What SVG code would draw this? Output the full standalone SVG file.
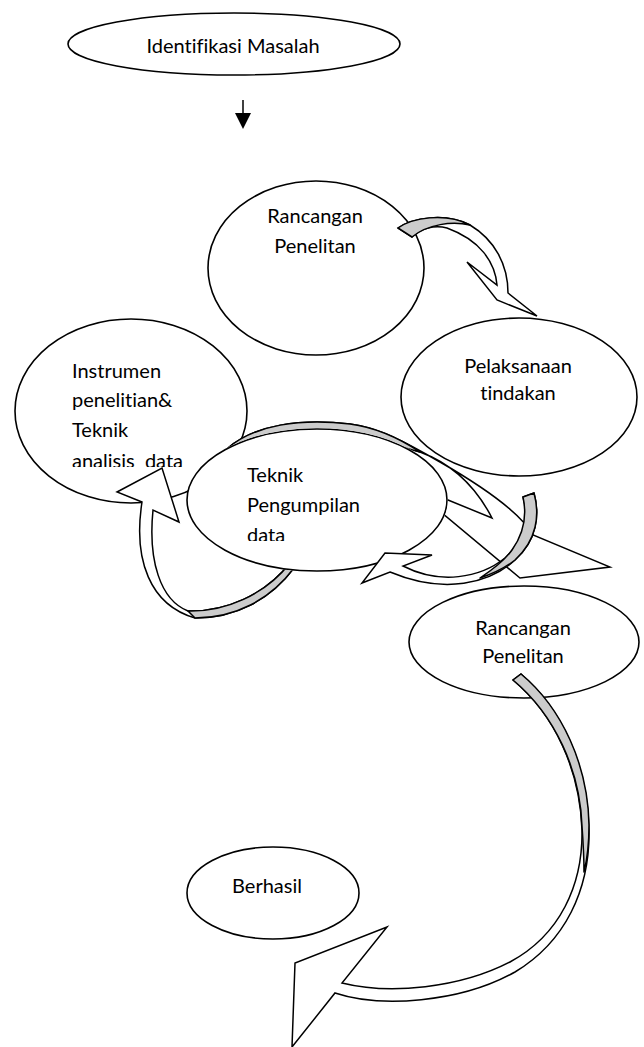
<svg xmlns="http://www.w3.org/2000/svg" width="644" height="1047" viewBox="0 0 644 1047">
<style>
.shape{fill:#fff;stroke:#000;stroke-width:1.6}
.lbl{font-family:Lato,"Open Sans",sans-serif;font-size:20px;fill:#000;font-variant-ligatures:none;font-feature-settings:"liga" 0,"clig" 0,"dlig" 0}
.mid{text-anchor:middle}
.arrow{fill:#fff;stroke:#000;stroke-width:1.5;stroke-linejoin:miter}
.shade{fill:#cccccc;stroke:#000;stroke-width:1.5;stroke-linejoin:round}
</style>
<defs>
<clipPath id="clipInstr"><rect x="0" y="340" width="260" height="127"/></clipPath>
<clipPath id="clipTek"><rect x="200" y="440" width="260" height="101"/></clipPath>
<mask id="hideTek" maskUnits="userSpaceOnUse" x="0" y="0" width="644" height="1047">
<rect x="0" y="0" width="644" height="1047" fill="#fff"/>
<ellipse cx="317" cy="500" rx="131" ry="72" fill="#000"/>
</mask>
</defs>
<rect width="644" height="1047" fill="#fff"/>
<g id="node-identifikasi">
<ellipse class="shape" cx="234" cy="44" rx="166" ry="31"/>
<text class="lbl mid" x="233" y="53">Identifikasi Masalah</text>
</g>
<g id="node-rancangan1">
<ellipse class="shape" cx="316" cy="268" rx="108" ry="87"/>
<text class="lbl mid" x="315" y="223">Rancangan</text>
<text class="lbl mid" x="315" y="253">Penelitan</text>
</g>
<g id="node-pelaksanaan">
<ellipse class="shape" cx="519" cy="397" rx="118" ry="79"/>
<text class="lbl mid" x="518" y="373">Pelaksanaan</text>
<text class="lbl mid" x="518" y="400">tindakan</text>
</g>
<g id="node-instrumen">
<ellipse class="shape" cx="131" cy="411" rx="116" ry="92"/>
<g clip-path="url(#clipInstr)">
<text class="lbl" x="72" y="378">Instrumen</text>
<text class="lbl" x="72" y="407">penelitian&amp;</text>
<text class="lbl" x="72" y="437">Teknik</text>
<text class="lbl" x="72" y="468" xml:space="preserve">analisis  data</text>
</g>
</g>
<g id="node-teknik">
<ellipse class="shape" cx="317" cy="500" rx="130" ry="71"/>
<g clip-path="url(#clipTek)">
<text class="lbl" x="247" y="482">Teknik</text>
<text class="lbl" x="247" y="512">Pengumpilan</text>
<text class="lbl" x="247" y="542">data</text>
</g>
</g>
<g id="node-rancangan2">
<ellipse class="shape" cx="524" cy="642" rx="115" ry="56"/>
<text class="lbl mid" x="523" y="635">Rancangan</text>
<text class="lbl mid" x="523" y="663">Penelitan</text>
</g>
<g id="node-berhasil">
<ellipse class="shape" cx="273" cy="893" rx="86" ry="46"/>
<text class="lbl mid" x="267" y="893">Berhasil</text>
</g>
<g id="connectors">
<g id="arrow-start">
<line x1="243" y1="100" x2="243" y2="114" stroke="#000" stroke-width="1.5"/>
<polygon points="235,113 251,113 243,129" fill="#000"/>
</g>
<g id="arrow-rancangan-pelaksanaan">
<path class="arrow" d="M398 228 C412 218,445 212,470 225 C495 240,508 265,508 293 L537 316 L497 300 L467 262 L497 285 C495 262,480 240,447 228 C435 225,420 228,412 237 Z"/>
<path class="shade" d="M398 228 C412 218,445 212,470 225 C452 221,428 224,412 237 Z"/>
</g>
<g id="arrow-pelaksanaan-teknik" mask="url(#hideTek)">
<path class="arrow" d="M228 448 C255 425,300 418,350 424 C380 428,405 442,440 462 C480 485,520 512,533 535 L610 567 L520 578 L406 483 L448 500 L492 518 C475 485,450 463,420 452 C370 437,290 432,235 452 Z"/>
<path class="shade" d="M228 448 C255 425,300 418,350 424 C380 428,405 442,420 452 C380 440,320 430,270 437 C255 440,240 446,233 452 Z"/>
</g>
<g id="arrow-teknik-instrumen" mask="url(#hideTek)">
<path class="arrow" d="M142 502 L117 492 L162 468 L179 522 L153 510 C148 560,160 600,188 611 C225 612,265 595,290 563 L300 548 L308 550 L294 568 C270 600,235 618,195 618 C150 605,133 560,142 502 Z"/>
<path class="shade" d="M188 611 C225 612,265 595,290 563 L300 548 L308 550 L294 568 C270 600,235 618,195 618 Z"/>
</g>
<g id="arrow-loop-teknik">
<path class="arrow" d="M534 493 C540 515,537 540,515 560 C490 583,445 595,390 572 L362 583 L385 553 L432 555 L403 566 C440 585,480 578,505 558 C525 540,528 515,523 497 Z"/>
<path class="shade" d="M534 493 C540 515,537 540,515 560 C505 568,495 573,480 578 C495 568,505 560,512 550 C524 533,527 515,523 497 Z"/>
</g>
<g id="arrow-rancangan-berhasil">
<path class="arrow" d="M335 993 C380 1008,460 1003,515 972 C565 942,590 890,589 830 C588 770,565 712,521 674 L513 680 C555 715,580 770,582 830 C583 885,560 935,510 962 C460 988,390 995,342 983 L387 927 L295 963 L292 1047 Z"/>
<path class="shade" d="M513 680 L521 674 C562 708,588 765,589 825 C589 845,587 860,584 872 C584 855,583 840,582 826 C580 770,555 715,513 680 Z"/>
</g>
</g>
</svg>
